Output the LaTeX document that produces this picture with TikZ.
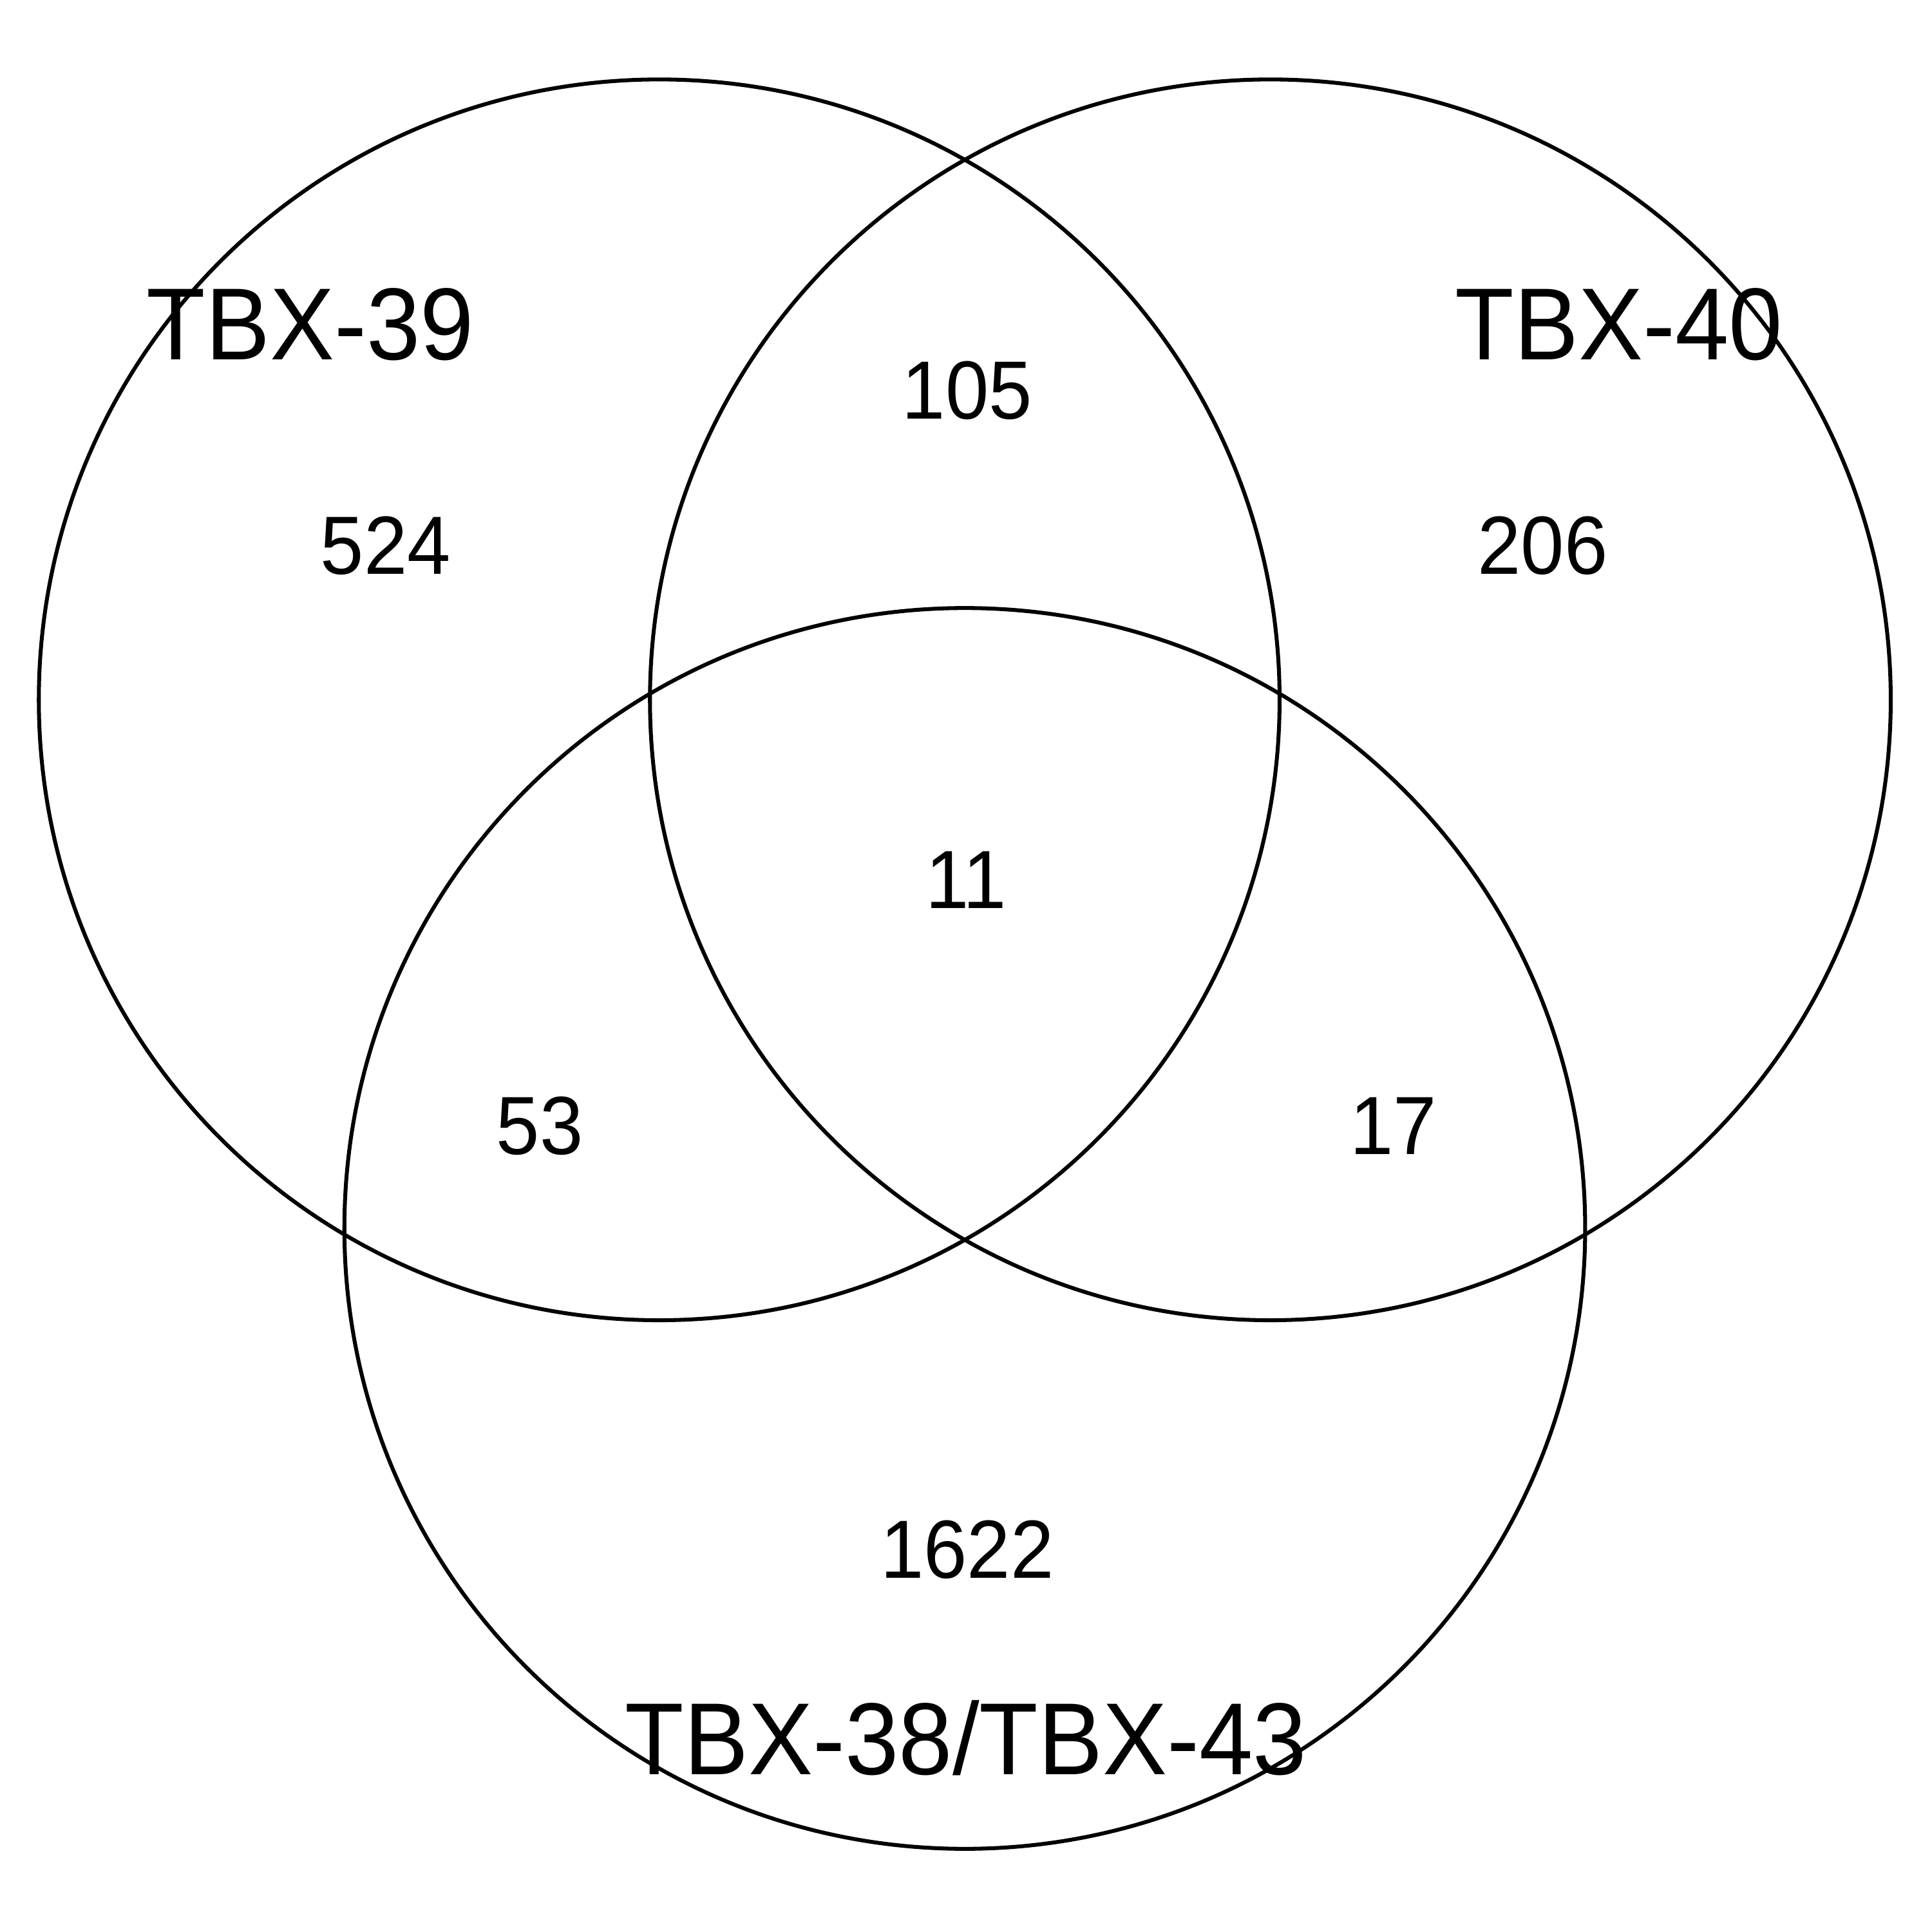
\documentclass[tikz,border=0pt]{standalone}
\usepackage{fontspec}
\setmainfont{Liberation Sans}
\newcommand{\tallt}[1]{\scalebox{1}[1.06]{#1}}

\begin{document}
\begin{tikzpicture}[
 setc/.style={draw,circle,minimum size=10.07cm,inner sep=0pt,line width=0.9pt},
 cnt/.style={anchor=base,inner sep=0pt,font=\fontsize{18}{18}\selectfont},
 lbl/.style={anchor=base,inner sep=0pt,font=\fontsize{22.3}{22.3}\selectfont}]
\useasboundingbox (0,0) rectangle (15.68,15.68);
% the three sets
\node[setc] (s39) at (5.35,10.00) {};
\node[setc] (s40) at (10.31,10.00) {};
\node[setc] (s38) at (7.83,5.71) {};
% set names
\node[lbl] (l39) at (2.52,12.76) {\tallt{TBX-39}};
\node[lbl] (l40) at (13.14,12.76) {\tallt{TBX-40}};
\node[lbl] (l38) at (7.84,1.28) {\tallt{TBX-38/TBX-43}};
% region counts
\node[cnt] (only39) at (3.13,11.02) {\tallt{524}};
\node[cnt] (only40) at (12.52,11.02) {\tallt{206}};
\node[cnt] (only38) at (7.85,2.87) {\tallt{1622}};
\node[cnt] (a39b40) at (7.85,12.28) {\tallt{105}};
\node[cnt] (a39b38) at (4.38,6.31) {\tallt{53}};
\node[cnt] (a40b38) at (11.31,6.31) {\tallt{17}};
\node[cnt] (all) at (7.84,8.31) {\tallt{11}};
\end{tikzpicture}
\end{document}
